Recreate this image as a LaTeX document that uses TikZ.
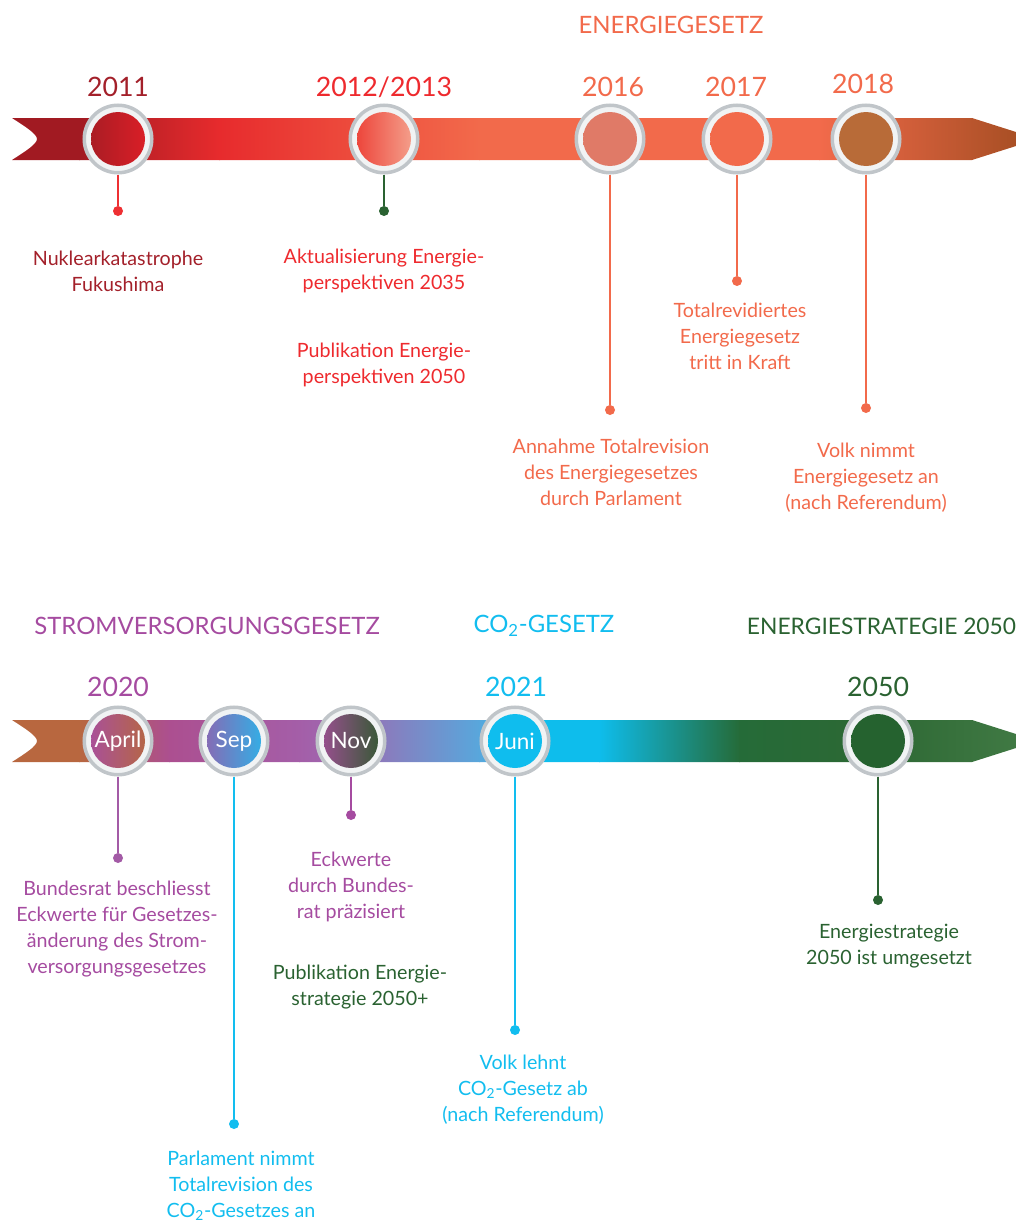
\documentclass[tikz,border=0pt]{standalone}
\usepackage{fontspec}
\setmainfont{Lato}
\usepackage{tikz}
\usetikzlibrary{positioning}
% text colours
\definecolor{egdark}{HTML}{A3202A}
\definecolor{egred}{HTML}{EE2A2E}
\definecolor{egsalmon}{HTML}{F26A4B}
\definecolor{egstem}{HTML}{EE3033}
\definecolor{svpurple}{HTML}{A54BA0}
\definecolor{cocyan}{HTML}{12BDEF}
\definecolor{esgreen}{HTML}{2A6231}
\definecolor{ringgray}{HTML}{C0C5C9}
\definecolor{ringlight}{HTML}{F1F3F4}
% band colours
\definecolor{ta}{HTML}{A11A22}
\definecolor{tb}{HTML}{E72B2D}
\definecolor{tc}{HTML}{F26A4B}
\definecolor{td}{HTML}{A04C20}
\definecolor{ba}{HTML}{B8673F}
\definecolor{bb}{HTML}{AC4F90}
\definecolor{bc}{HTML}{A45EA8}
\definecolor{bd}{HTML}{9C6CB2}
\definecolor{be}{HTML}{58A7DC}
\definecolor{bf}{HTML}{0EBDEC}
\definecolor{bg}{HTML}{256B38}
\definecolor{bh}{HTML}{2D6834}
\definecolor{bi}{HTML}{437C46}
% milestone fills
\definecolor{mAa}{HTML}{A51C24}
\definecolor{mAb}{HTML}{DF1F27}
\definecolor{mBa}{HTML}{EC3B32}
\definecolor{mBb}{HTML}{F5A893}
\definecolor{mC}{HTML}{E07A67}
\definecolor{mD}{HTML}{F26A4B}
\definecolor{mE}{HTML}{B86B38}
\definecolor{mFa}{HTML}{A84EA1}
\definecolor{mFb}{HTML}{B6683E}
\definecolor{mGa}{HTML}{8E64B0}
\definecolor{mGb}{HTML}{2BB5EA}
\definecolor{mHa}{HTML}{A04E96}
\definecolor{mHb}{HTML}{2F5A2E}
\definecolor{mI}{HTML}{0FBDEE}
\definecolor{mJ}{HTML}{25622F}
\definecolor{stpurple}{HTML}{A35BA6}

\begin{document}
\begin{tikzpicture}[x=0.025cm, y=0.025cm,
  milestone/.style 2 args={circle, minimum size=1.6875cm, inner sep=0pt,
    draw=ringgray, line width=0.0875cm, fill=ringlight, text=white,
    font=\fontsize{16}{16}\selectfont,
    path picture={\shade[left color=#1, right color=#2]
      (path picture bounding box.center) circle (27);}},
  dot/.style={circle, fill=#1, inner sep=0pt, minimum size=0.25cm},
  stem/.style={draw=#1, line width=0.05cm},
  yearlbl/.style={text=#1, font=\fontsize{19}{22}\selectfont},
  headlbl/.style={text=#1, font=\fontsize{17}{20}\selectfont},
  note/.style={text=#1, align=center, inner sep=0pt,
    font=\fontsize{14}{18.5}\selectfont},
  bandshape/.style={insert path={(12,21) -- (972,21) -- (1038,0) -- (972,-21)
    -- (12,-21) .. controls (26,-12) and (37,-5) .. (37,0)
    .. controls (37,5) and (26,12) .. (12,21) -- cycle}}]
  \useasboundingbox (0,0) rectangle (1016,-1222);
  \clip (0,0) rectangle (1016,-1222);

  % bands
  \begin{scope}[shift={(0,-139)}]
    \clip[bandshape];
    \foreach \xa/\xb/\ca/\cb in {0/80/ta/ta, 79/220/ta/tb, 219/480/tb/tc,
        479/820/tc/tc, 819/1040/tc/td}
      \shade[left color=\ca, right color=\cb] (\xa,-22) rectangle (\xb,22);
  \end{scope}
  \begin{scope}[shift={(0,-741)}]
    \clip[bandshape];
    \foreach \xa/\xb/\ca/\cb in {0/80/ba/ba, 79/170/ba/bb, 169/300/bb/bc,
        299/350/bc/bd, 349/480/bd/be, 479/540/be/bf, 539/600/bf/bf,
        599/740/bf/bg, 739/880/bg/bh, 879/1040/bh/bi}
      \shade[left color=\ca, right color=\cb] (\xa,-22) rectangle (\xb,22);
  \end{scope}

  % Energiegesetz
  \node[headlbl=egsalmon] (hEG) at (671,-25) {ENERGIEGESETZ};
  \node[yearlbl=egdark] (y2011) at (118,-87) {2011};
  \node[yearlbl=egred] (y2012) at (384,-87) {2012/2013};
  \node[yearlbl=egsalmon] (y2016) at (613,-87) {2016};
  \node[yearlbl=egsalmon] (y2017) at (736,-87) {2017};
  \node[yearlbl=egsalmon] (y2018) at (863,-84) {2018};

  \node[dot=egstem] (d2011) at (118,-211) {};
  \node[dot=esgreen] (d2012) at (384,-211) {};
  \node[dot=egsalmon] (d2016) at (610,-410) {};
  \node[dot=egsalmon] (d2017) at (737,-281) {};
  \node[dot=egsalmon] (d2018) at (866,-408) {};

  \node[milestone={mAa}{mAb}] (c2011) at (118,-139) {};
  \node[milestone={mBa}{mBb}] (c2012) at (384,-139) {};
  \node[milestone={mC}{mC}] (c2016) at (610,-139) {};
  \node[milestone={mD}{mD}] (c2017) at (737,-139) {};
  \node[milestone={mE}{mE}] (c2018) at (866,-139) {};

  \draw[stem=egstem] (c2011) -- (d2011);
  \draw[stem=esgreen] (c2012) -- (d2012);
  \foreach \n in {2016,2017,2018}
    \draw[stem=egsalmon] (c\n) -- (d\n);

  \node[note=egdark] (n2011) at (118,-271) {Nuklearkatastrophe\\Fukushima};
  \node[note=egred] (n2012a) at (384,-271) {Aktualisierung Energie-\\perspektiven 2035};
  \node[note=egred] (n2012b) at (384,-365) {Publikation Energie-\\perspektiven 2050};
  \node[note=egsalmon] (n2017) at (740,-336) {Totalrevidiertes\\Energiegesetz\\tritt in Kraft};
  \node[note=egsalmon] (n2016) at (611,-472) {Annahme Totalrevision\\des Energiegesetzes\\durch Parlament};
  \node[note=egsalmon] (n2018) at (866,-478) {Volk nimmt\\Energiegesetz an\\(nach Referendum)};

  % Stromversorgung, CO2, Energiestrategie
  \node[headlbl=svpurple] (hSV) at (207,-626) {STROMVERSORGUNGSGESETZ};
  \node[headlbl=cocyan] (hCO) at (544,-626) {CO\textsubscript{2}-GESETZ};
  \node[headlbl=esgreen, anchor=west, font=\fontsize{16.2}{20}\selectfont] (hES) at (742,-626) {ENERGIESTRATEGIE 2050};
  \node[yearlbl=svpurple] (y2020) at (118,-687) {2020};
  \node[yearlbl=cocyan] (y2021) at (516,-687) {2021};
  \node[yearlbl=esgreen] (y2050) at (878,-687) {2050};

  \node[dot=stpurple] (dApr) at (118,-858) {};
  \node[dot=cocyan] (dSep) at (234,-1124) {};
  \node[dot=svpurple] (dNov) at (351,-815) {};
  \node[dot=cocyan] (dJun) at (515,-1030) {};
  \node[dot=esgreen] (d2050) at (878,-900) {};

  \node[milestone={mFa}{mFb}] (cApr) at (118,-741) {April};
  \node[milestone={mGa}{mGb}] (cSep) at (234,-741) {Sep};
  \node[milestone={mHa}{mHb}] (cNov) at (351,-741) {Nov};
  \node[milestone={mI}{mI}] (cJun) at (515,-741) {Juni};
  \node[milestone={mJ}{mJ}] (c2050) at (878,-741) {};

  \draw[stem=stpurple] (cApr) -- (dApr);
  \draw[stem=cocyan] (cSep) -- (dSep);
  \draw[stem=svpurple] (cNov) -- (dNov);
  \draw[stem=cocyan] (cJun) -- (dJun);
  \draw[stem=esgreen] (c2050) -- (d2050);

  \node[note=svpurple] (nApr) at (117,-929) {Bundesrat beschliesst\\Eckwerte für Gesetzes-\\änderung des Strom-\\versorgungsgesetzes};
  \node[note=svpurple] (nNov) at (351,-887) {Eckwerte\\durch Bundes-\\rat präzisiert};
  \node[note=esgreen] (nNov2) at (360,-987) {Publikation Energie-\\strategie 2050+};
  \node[note=cocyan] (nJun) at (523,-1090) {Volk lehnt\\CO\textsubscript{2}-Gesetz ab\\(nach Referendum)};
  \node[note=esgreen] (n2050) at (889,-946) {Energiestrategie\\2050 ist umgesetzt};
  \node[note=cocyan] (nSep) at (241,-1186) {Parlament nimmt\\Totalrevision des\\CO\textsubscript{2}-Gesetzes an};
\end{tikzpicture}
\end{document}
